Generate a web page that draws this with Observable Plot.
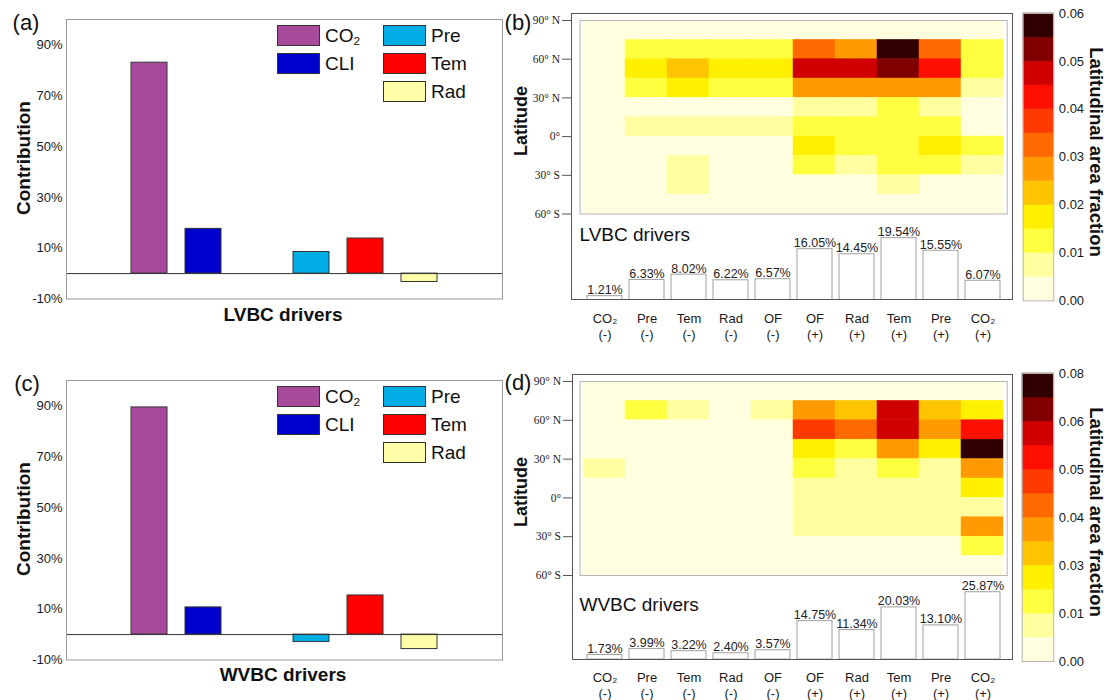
<!DOCTYPE html>
<html>
<head>
<meta charset="utf-8">
<script src="https://cdn.jsdelivr.net/npm/d3@7"></script>
<script src="https://cdn.jsdelivr.net/npm/@observablehq/plot@0.6"></script>
<style>
  html, body { margin: 0; padding: 0; background: #fff; }
  #root { position: relative; width: 1112px; height: 700px; overflow: hidden; font-family: "Liberation Sans", Arial, sans-serif; color: #111; }
  #root > * { position: absolute; }
  .txt { white-space: nowrap; line-height: 1; }
  sub { font-size: 0.62em; vertical-align: -0.28em; line-height: 0; }
</style>
</head>
<body>
<div id="root"></div>
<script>
// ---------- data: panels (a) and (c) ----------
const drivers = ["CO₂", "CLI", "Pre", "Tem", "Rad"];
const driverColors = ["#a84a9c", "#0000cc", "#00aee6", "#ff0000", "#ffffaa"];
const driverSlots = ["gap0", "CO₂", "CLI", "gap3", "Pre", "Tem", "Rad", "gap7"];
const lvbcContribution = [83.0, 17.6, 8.5, 13.8, -3.3];
const wvbcContribution = [89.4, 10.7, -2.9, 15.4, -5.7];
const contributionTicks = [-10, 10, 30, 50, 70, 90];
const legendColumns = [["CO₂", "CLI"], ["Pre", "Tem", "Rad"]];

// ---------- data: panels (b) and (d) ----------
const factors = ["CO2-", "Pre-", "Tem-", "Rad-", "OF-", "OF+", "Rad+", "Tem+", "Pre+", "CO2+"];
const factorLabels = ["CO₂\n(-)", "Pre\n(-)", "Tem\n(-)", "Rad\n(-)", "OF\n(-)", "OF\n(+)", "Rad\n(+)", "Tem\n(+)", "Pre\n(+)", "CO₂\n(+)"];
const latBandNorth = [90, 75, 60, 45, 30, 15, 0, -15, -30, -45];
const latBandSouth = [75, 60, 45, 30, 15, 0, -15, -30, -45, -60];
const latTicks = [90, 60, 30, 0, -30, -60];
const latTickLabels = ["90° N", "60° N", "30° N", "0°", "30° S", "60° S"];

const lvbcLatFraction = [
  [0.002, 0.002, 0.002, 0.002, 0.002, 0.002, 0.002, 0.002, 0.002, 0.002],
  [0.002, 0.012, 0.012, 0.012, 0.012, 0.032, 0.027, 0.058, 0.032, 0.012],
  [0.002, 0.017, 0.022, 0.017, 0.017, 0.047, 0.047, 0.052, 0.042, 0.012],
  [0.002, 0.012, 0.017, 0.012, 0.012, 0.027, 0.027, 0.027, 0.027, 0.007],
  [0.002, 0.003, 0.003, 0.003, 0.003, 0.007, 0.007, 0.012, 0.007, 0.003],
  [0.002, 0.007, 0.007, 0.007, 0.007, 0.012, 0.012, 0.012, 0.012, 0.003],
  [0.002, 0.003, 0.003, 0.003, 0.003, 0.017, 0.012, 0.012, 0.017, 0.012],
  [0.002, 0.002, 0.007, 0.002, 0.002, 0.012, 0.007, 0.012, 0.012, 0.007],
  [0.002, 0.002, 0.007, 0.002, 0.002, 0.002, 0.002, 0.007, 0.002, 0.002],
  [0.002, 0.002, 0.002, 0.002, 0.002, 0.002, 0.002, 0.002, 0.002, 0.002]
];
const wvbcLatFraction = [
  [0.003, 0.003, 0.003, 0.003, 0.003, 0.003, 0.003, 0.003, 0.003, 0.003],
  [0.003, 0.016, 0.010, 0.003, 0.010, 0.036, 0.030, 0.063, 0.030, 0.023],
  [0.003, 0.003, 0.003, 0.003, 0.003, 0.050, 0.043, 0.063, 0.036, 0.056],
  [0.003, 0.003, 0.003, 0.003, 0.003, 0.023, 0.016, 0.036, 0.023, 0.077],
  [0.010, 0.003, 0.003, 0.003, 0.003, 0.016, 0.010, 0.016, 0.010, 0.036],
  [0.003, 0.003, 0.003, 0.003, 0.003, 0.010, 0.010, 0.010, 0.010, 0.023],
  [0.003, 0.003, 0.003, 0.003, 0.003, 0.010, 0.010, 0.010, 0.010, 0.010],
  [0.003, 0.003, 0.003, 0.003, 0.003, 0.010, 0.010, 0.010, 0.010, 0.036],
  [0.003, 0.003, 0.003, 0.003, 0.003, 0.003, 0.003, 0.003, 0.003, 0.016],
  [0.003, 0.003, 0.003, 0.003, 0.003, 0.003, 0.003, 0.003, 0.003, 0.003]
];
const lvbcShare = [1.21, 6.33, 8.02, 6.22, 6.57, 16.05, 14.45, 19.54, 15.55, 6.07];
const wvbcShare = [1.73, 3.99, 3.22, 2.40, 3.57, 14.75, 11.34, 20.03, 13.10, 25.87];

const heatColors = ["#ffffe0", "#ffffa0", "#ffff40", "#fff000", "#ffc400", "#ff9a00",
                    "#ff6a00", "#ff3a00", "#ff0f00", "#d00000", "#800000", "#300000"];
const lvbcThresholds = [0.005, 0.01, 0.015, 0.02, 0.025, 0.03, 0.035, 0.04, 0.045, 0.05, 0.055];
const lvbcMax = 0.06;
const lvbcBarTicks = [0, 0.01, 0.02, 0.03, 0.04, 0.05, 0.06];
const lvbcBarTickLabels = ["0.00", "0.01", "0.02", "0.03", "0.04", "0.05", "0.06"];
const wvbcThresholds = [0.00667, 0.01333, 0.02, 0.02667, 0.03333, 0.04, 0.04667, 0.05333, 0.06, 0.06667, 0.07333];
const wvbcMax = 0.08;
const wvbcBarTicks = [0, 0.01333, 0.02667, 0.04, 0.05333, 0.06667, 0.08];
const wvbcBarTickLabels = ["0.00", "0.01", "0.03", "0.04", "0.05", "0.06", "0.08"];

// ---------- helpers ----------
const root = document.getElementById("root");
const SANS = "'Liberation Sans', Arial, sans-serif";
const SERIF = "'Liberation Serif', 'Times New Roman', serif";

function place(node, left, top) {
  node.style.left = left + "px";
  node.style.top = top + "px";
  root.appendChild(node);
  return node;
}
function label(html, x, y, {size = 19, weight = "normal", anchor = "middle", rotate = 0, family = SANS} = {}) {
  const d = document.createElement("div");
  d.className = "txt";
  d.innerHTML = html;
  d.style.fontSize = size + "px";
  d.style.fontWeight = weight;
  d.style.fontFamily = family;
  const tx = anchor === "middle" ? "-50%" : anchor === "end" ? "-100%" : "0";
  d.style.transform = `translate(${tx}, -50%)` + (rotate ? ` rotate(${rotate}deg)` : "");
  return place(d, x, y);
}
function outline(x0, y0, x1, y1, color, w) {
  const d = document.createElement("div");
  d.style.boxSizing = "border-box";
  d.style.border = `${w}px solid ${color}`;
  d.style.width = (x1 - x0 + w) + "px";
  d.style.height = (y1 - y0 + w) + "px";
  return place(d, x0 - w / 2, y0 - w / 2);
}
function margins(left, top, width, height, x0, y0, x1, y1) {
  return {width, height, marginLeft: x0 - left, marginTop: y0 - top, marginRight: left + width - x1, marginBottom: top + height - y1};
}
const baseStyle = {fontFamily: SANS, color: "#1a1a1a", background: "transparent", overflow: "visible"};
const sub2 = s => s.replace("₂", "<sub>2</sub>");

function legendBlock(left, top) {
  const wrap = document.createElement("div");
  wrap.style.display = "flex";
  legendColumns.forEach((col, ci) => {
    const c = document.createElement("div");
    c.style.width = ci === 0 ? "106px" : "auto";
    col.forEach(name => {
      const row = document.createElement("div");
      row.style.cssText = "display:flex;align-items:center;height:28px;";
      const sw = document.createElement("span");
      sw.style.cssText = `display:inline-block;width:43px;height:21px;box-sizing:border-box;border:1.4px solid #333;background:${driverColors[drivers.indexOf(name)]}`;
      const t = document.createElement("span");
      t.innerHTML = sub2(name);
      t.style.cssText = "font-size:19px;margin-left:5px;line-height:1;";
      row.append(sw, t);
      c.append(row);
    });
    wrap.append(c);
  });
  place(wrap, left, top);
}

// ---------- panels (a)/(c) ----------
function contributionPanel(values, top) {
  const rows = drivers.map((d, i) => ({driver: d, value: values[i]}));
  const p = Plot.plot({
    ...margins(0, top, 510, 330, 66, top + 19, 502, top + 298.5),
    style: {...baseStyle, fontSize: "13px"},
    x: {type: "band", domain: driverSlots, paddingInner: 0.34, paddingOuter: 0.17, insetLeft: 2, insetRight: 2, axis: null},
    y: {domain: [-10, 100]},
    color: {domain: drivers, range: driverColors},
    marks: [
      Plot.barY(rows, {x: "driver", y: "value", fill: "driver", stroke: "#333", strokeWidth: 1}),
      Plot.ruleY([0], {stroke: "#333", strokeWidth: 1}),
      Plot.frame({stroke: "#999"}),
      Plot.axisY({ticks: contributionTicks, tickFormat: d => d + "%", tickSize: 0, tickPadding: 4, fontSize: 13, label: null})
    ]
  });
  place(p, 0, top);
}

// ---------- panels (b)/(d) ----------
function heatPanel({matrix, thresholds, maxValue, cbTicks, cbLabels, shares, shareMax, g}) {
  const color = {type: "threshold", domain: thresholds, range: heatColors};
  const cells = latBandNorth.flatMap((north, r) => factors.map((f, c) => ({factor: f, north, south: latBandSouth[r], value: matrix[r][c]})));
  const heat = Plot.plot({
    ...margins(490, g.heatTop - 20, 525, g.heatBottom - g.heatTop + 30, 579.6, g.heatTop, 1006.7, g.heatBottom),
    style: {...baseStyle, fontSize: "12px"},
    x: {type: "band", domain: factors, padding: 0, axis: null},
    y: {domain: [-60, 90]},
    color,
    marks: [
      Plot.barY(cells, {x: "factor", y1: "south", y2: "north", fill: "value", stroke: "value", strokeWidth: 0.5}),
      Plot.frame({stroke: "#b4b4b4"}),
      Plot.axisY({ticks: latTicks, tickFormat: d => latTickLabels[latTicks.indexOf(d)], dx: g.boxLeft - 579.6,
                  tickSize: 10, tickPadding: 2.5, fontFamily: SERIF, fontSize: 11.5, stroke: "#555", label: null})
    ]
  });
  place(heat, 490, g.heatTop - 20);

  const shareRows = factors.map((f, i) => ({factor: f, share: shares[i]}));
  const bars = Plot.plot({
    ...margins(490, g.heatBottom - 5, 525, g.base - g.heatBottom + 55, 582.5, g.heatBottom, 1005.5, g.base),
    style: {...baseStyle, fontSize: "13px"},
    x: {type: "band", domain: factors, paddingInner: 0.165, paddingOuter: 0.0825},
    y: {domain: [0, shareMax], axis: null},
    marks: [
      Plot.barY(shareRows, {x: "factor", y: "share", fill: "white", stroke: "#a0a0a0", strokeWidth: 1}),
      Plot.text(shareRows, {x: "factor", y: "share", text: d => d.share.toFixed(2) + "%", lineAnchor: "bottom", dy: -2, fontSize: 12.5, fill: "#222"}),
      Plot.axisX({tickFormat: d => factorLabels[factors.indexOf(d)], tickSize: 0, tickPadding: 11, lineHeight: 1.25, fontSize: 13, label: null})
    ]
  });
  place(bars, 490, g.heatBottom - 5);

  outline(g.boxLeft, g.boxTop, 1012.3, g.base, "#555", 1.5);

  const edges = [0, ...thresholds, maxValue];
  const bins = heatColors.map((c, i) => ({lo: edges[i], hi: edges[i + 1]}));
  const cb = Plot.plot({
    ...margins(1015, g.cbTop - 15, 75, g.cbBottom - g.cbTop + 35, g.cbLeft, g.cbTop, 1053.3, g.cbBottom),
    style: {...baseStyle, fontSize: "13px"},
    x: {type: "band", domain: ["bar"], padding: 0, axis: null},
    y: {domain: [0, maxValue]},
    color,
    marks: [
      Plot.barY(bins, {x: () => "bar", y1: "lo", y2: "hi", fill: d => (d.lo + d.hi) / 2, stroke: d => (d.lo + d.hi) / 2, strokeWidth: 0.5}),
      Plot.frame({stroke: "#b4b4b4"}),
      Plot.axisY({anchor: "right", ticks: cbTicks, tickFormat: d => cbLabels[cbTicks.indexOf(d)], tickSize: 0, tickPadding: 5, fontSize: 13, label: null})
    ]
  });
  place(cb, 1015, g.cbTop - 15);
}

// ---------- draw ----------
contributionPanel(lvbcContribution, 0);
contributionPanel(wvbcContribution, 361);
legendBlock(277, 21.5);
legendBlock(277, 382.5);

heatPanel({matrix: lvbcLatFraction, thresholds: lvbcThresholds, maxValue: lvbcMax, cbTicks: lvbcBarTicks, cbLabels: lvbcBarTickLabels,
  shares: lvbcShare, shareMax: 27,
  g: {heatTop: 20, heatBottom: 213.5, base: 299, boxLeft: 572, boxTop: 13.3, cbLeft: 1022.7, cbTop: 12.7, cbBottom: 300}});
heatPanel({matrix: wvbcLatFraction, thresholds: wvbcThresholds, maxValue: wvbcMax, cbTicks: wvbcBarTicks, cbLabels: wvbcBarTickLabels,
  shares: wvbcShare, shareMax: 32.3,
  g: {heatTop: 381, heatBottom: 575, base: 659, boxLeft: 573, boxTop: 375, cbLeft: 1021.7, cbTop: 373, cbBottom: 661}});

// titles and annotations
label("(a)", 26, 23, {size: 22});
label("Contribution", 23, 158, {size: 19, weight: "bold", rotate: -90});
label("LVBC drivers", 283, 313.5, {size: 19, weight: "bold"});
label("(c)", 27, 384, {size: 22});
label("Contribution", 23, 519, {size: 19, weight: "bold", rotate: -90});
label("WVBC drivers", 283, 674, {size: 19, weight: "bold"});

label("(b)", 518, 23, {size: 22});
label("Latitude", 521, 121, {size: 18, weight: "bold", rotate: -90});
label("LVBC drivers", 579.5, 234, {size: 19, anchor: "start"});
label("Latitudinal area fraction", 1096, 152, {size: 18.5, weight: "bold", rotate: 90});
label("(d)", 518, 383, {size: 22});
label("Latitude", 521, 491.7, {size: 18, weight: "bold", rotate: -90});
label("WVBC drivers", 579.5, 604, {size: 19, anchor: "start"});
label("Latitudinal area fraction", 1096, 512, {size: 18.5, weight: "bold", rotate: 90});
</script>
</body>
</html>
